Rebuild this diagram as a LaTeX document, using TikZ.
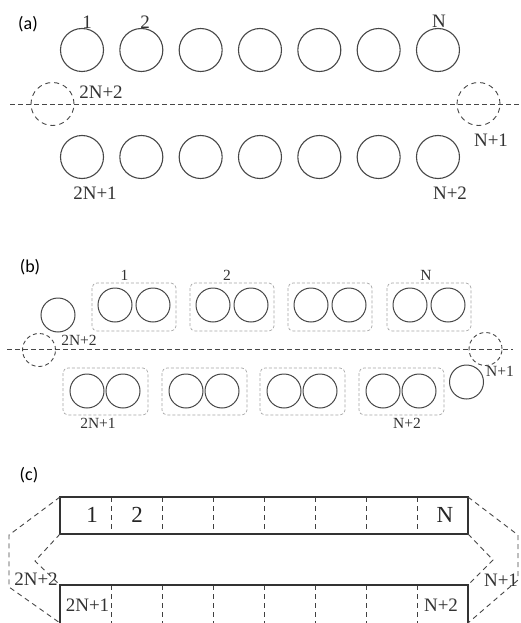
\documentclass[tikz,border=0pt]{standalone}
\usepackage{fontspec}
\setmainfont{Liberation Serif}
\newfontfamily\panelfont{Carlito}
\begin{document}
\begin{tikzpicture}[x=1pt,y=-1pt,
  bigc/.style={circle,draw=black!72,line width=1.1pt,minimum size=43pt,inner sep=0pt},
  bigd/.style={circle,draw=black!72,line width=0.9pt,dash pattern=on 5pt off 4pt,minimum size=43pt,inner sep=0pt},
  smc/.style={circle,draw=black!72,line width=1pt,minimum size=34pt,inner sep=0pt},
  smd/.style={circle,draw=black!72,line width=0.9pt,dash pattern=on 4pt off 3pt,minimum size=33pt,inner sep=0pt},
  axis/.style={draw=black!72,line width=0.8pt,dash pattern=on 5pt off 3pt},
  grp/.style={draw=black!35,line width=0.7pt,dash pattern=on 3pt off 2pt,rounded corners=5pt},
  lab/.style={inner sep=0pt,font=\fontsize{19}{22}\selectfont,text=black!80},
  labs/.style={inner sep=0pt,font=\fontsize{15.5}{18}\selectfont,text=black!80},
  labc/.style={inner sep=0pt,font=\fontsize{19}{22}\selectfont,text=black!80},
  labbig/.style={inner sep=0pt,font=\fontsize{23}{26}\selectfont,text=black!85},
  panel/.style={inner sep=0pt,font=\panelfont\fontsize{18}{21}\selectfont},
  rectline/.style={draw=black!80,line width=1.8pt},
  sep/.style={draw=black!75,line width=0.8pt,dash pattern=on 5pt off 4pt},
  link/.style={draw=black!72,line width=0.9pt,dash pattern=on 5pt off 4pt}]
\fill[white] (0,0) rectangle (520,623);
\useasboundingbox (0,0) rectangle (520,623);

% ---------------- (a) ----------------
\node[panel] (pa) at (28,24) {(a)};
\draw[axis] (10,104) -- (520,104);
\foreach \i in {1,...,7}{
  \node[bigc] (at\i) at ({82+59.33*(\i-1)},50) {};
  \node[bigc] (ab\i) at ({82+59.33*(\i-1)},157) {};
}
\node[bigd] (al) at (52.5,104) {};
\node[bigd] (ar) at (478.5,104) {};
\node[lab] (a1) at (87,22) {1};
\node[lab] (a2) at (145,22) {2};
\node[lab] (aN) at (439,21) {N};
\node[lab] (a2N2) at (101,92) {2N+2};
\node[lab] (a2N1) at (95,193) {2N+1};
\node[lab] (aN1) at (491,140) {N+1};
\node[lab] (aN2) at (450,193) {N+2};

% ---------------- (b) ----------------
\node[panel] (pb) at (30,267) {(b)};
\draw[axis] (7,349) -- (513,349);
\foreach \l/\n in {92/1,190/2,288/3,387/4}{
  \draw[grp] (\l,283) rectangle ({\l+84},331);
  \node[smc] (bt\n a) at ({\l+23},305) {};
  \node[smc] (bt\n b) at ({\l+61},305) {};
}
\foreach \l/\n in {63/1,162/2,260/3,359/4}{
  \draw[grp] (\l,368) rectangle ({\l+85},415);
  \node[smc] (bb\n a) at ({\l+24},391) {};
  \node[smc] (bb\n b) at ({\l+60},391) {};
}
\node[smc] (bls) at (58,315) {};
\node[smd] (bld) at (39,350) {};
\node[smc] (brs) at (466.5,382) {};
\node[smd] (brd) at (485.5,349) {};
\node[labs] (b1) at (124.5,275) {1};
\node[labs] (b2) at (227,275) {2};
\node[labs] (bN) at (426,275) {N};
\node[labs] (b2N2) at (79,340) {2N+2};
\node[labs] (b2N1) at (98,423) {2N+1};
\node[labs] (bN1) at (500,371) {N+1};
\node[labs] (bN2) at (407,423) {N+2};

% ---------------- (c) ----------------
\node[panel] (pc) at (29,475) {(c)};
\coordinate (ttl) at (60,497);
\coordinate (ttr) at (468,497);
\coordinate (tbl) at (60,534);
\coordinate (tbr) at (468,534);
\coordinate (btl) at (60,585);
\coordinate (btr) at (468,585);
\coordinate (bbl) at (60,623);
\coordinate (bbr) at (468,623);
\coordinate (lo1) at (9,535);
\coordinate (lo2) at (9,587);
\coordinate (li) at (35,561);
\coordinate (ro1) at (518,535);
\coordinate (ro2) at (518,580);
\coordinate (ri) at (493,560);
\foreach \x in {111,162,213,264,315,366,417}{
  \draw[sep] (\x,497) -- (\x,534);
  \draw[sep] (\x,585) -- (\x,623);
}
\draw[rectline] (ttl) rectangle (tbr);
\draw[rectline] (bbl) -- (btl) -- (btr) -- (bbr);
\draw[link] (ttl) -- (lo1) -- (lo2) -- (bbl);
\draw[link] (tbl) -- (li) -- (btl);
\draw[link] (ttr) -- (ro1) -- (ro2) -- (bbr);
\draw[link] (tbr) -- (ri) -- (btr);
\node[labbig] (c1) at (92,515) {1};
\node[labbig] (c2) at (137,515) {2};
\node[labbig] (cN) at (445,515) {N};
\node[labc] (c2N2) at (36,579) {2N+2};
\node[labc] (c2N1) at (87.5,605) {2N+1};
\node[labc] (cN1) at (501,580) {N+1};
\node[labc] (cN2) at (441,605) {N+2};
\end{tikzpicture}
\end{document}
